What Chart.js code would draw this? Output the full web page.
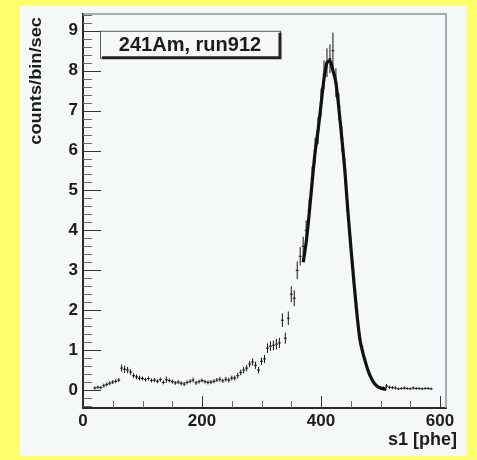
<!DOCTYPE html>
<html><head><meta charset="utf-8">
<script src="https://cdn.jsdelivr.net/npm/chart.js@4/dist/chart.umd.min.js"></script>
<style>
html,body{margin:0;padding:0;background:#ffff6b;width:477px;height:460px;overflow:hidden}
#panel{position:absolute;left:20px;top:6px;width:447px;height:450px;background:#f4f8f9}
canvas{display:block}
</style></head><body>
<div id="panel"><canvas id="c" width="447" height="450"></canvas></div>
<script>
// ---- data ----
const binCenters = [20,25,30,35,40,45,50,55,60,65,70,75,80,85,90,95,100,105,110,115,120,125,130,135,140,145,150,155,160,165,170,175,180,185,190,195,200,205,210,215,220,225,230,235,240,245,250,255,260,265,270,275,280,285,290,295,300,305,310,315,320,325,330,335,340,345,350,355,360,365,370,375,380,385,390,395,400,405,410,415,420,425,430,435,440,445,450,455,460,465,470,475,480,485,490,495,500,505,510,515,520,525,530,535,540,545,550,555,560,565,570,575,580,585];
const counts = [0.05,0.07,0.06,0.11,0.14,0.17,0.2,0.22,0.25,0.55,0.52,0.5,0.45,0.36,0.33,0.3,0.29,0.26,0.29,0.24,0.25,0.22,0.26,0.19,0.26,0.24,0.21,0.18,0.2,0.17,0.15,0.19,0.22,0.25,0.18,0.21,0.24,0.21,0.19,0.2,0.22,0.25,0.27,0.23,0.27,0.25,0.3,0.3,0.36,0.44,0.5,0.55,0.65,0.7,0.62,0.5,0.72,0.78,1.05,1.1,1.12,1.15,1.18,1.75,1.3,1.8,2.4,2.3,3.0,3.35,3.6,4.0,4.5,5.3,6.0,6.5,7.2,7.9,8.2,8.3,8.5,7.7,7.1,6.3,5.5,4.5,3.6,2.8,2.0,1.3,1.0,0.7,0.45,0.28,0.16,0.09,0.05,0.05,0.1,0.07,0.06,0.05,0.03,0.04,0.05,0.04,0.03,0.05,0.04,0.04,0.03,0.04,0.04,0.03];
const errors = [0.04,0.04,0.04,0.05,0.05,0.05,0.05,0.05,0.05,0.09,0.09,0.08,0.07,0.06,0.06,0.06,0.05,0.05,0.05,0.05,0.05,0.05,0.05,0.05,0.08,0.05,0.05,0.05,0.05,0.05,0.05,0.05,0.05,0.06,0.05,0.05,0.05,0.05,0.05,0.05,0.05,0.05,0.06,0.05,0.06,0.06,0.06,0.06,0.07,0.07,0.08,0.08,0.08,0.09,0.09,0.08,0.09,0.1,0.12,0.12,0.12,0.13,0.13,0.17,0.14,0.17,0.2,0.2,0.22,0.23,0.24,0.25,0.28,0.3,0.32,0.34,0.35,0.36,0.36,0.36,0.45,0.36,0.34,0.32,0.3,0.27,0.24,0.21,0.18,0.15,0.12,0.1,0.08,0.06,0.05,0.04,0.04,0.04,0.05,0.04,0.04,0.04,0.03,0.03,0.04,0.03,0.03,0.04,0.03,0.03,0.03,0.03,0.03,0.03];
const fitX = [370,375,380,385,390,395,400,405,410,415,420,425,430,435,440,445,450,455,460,465,470,475,480,485,490,495,500,505,510];
const fitY = [3.2,3.7,4.4,5.2,5.95,6.5,7.15,7.8,8.2,8.25,8.0,7.7,7.05,6.3,5.5,4.5,3.6,2.75,1.95,1.3,0.95,0.68,0.45,0.28,0.16,0.09,0.05,0.03,0.02];
const xTickLabels = [0,200,400,600];
const yTickLabels = [0,1,2,3,4,5,6,7,8,9];
const xMinorStep = 50, yMinorStep = 0.2;
const binHalfWidth = 2.5;
const xRange = [0, 610], yRange = [-0.45, 9.42];
const labelText = '241Am, run912';
const xTitle = 's1 [phe]', yTitle = 'counts/bin/sec';

const FONT = "'Liberation Sans', Arial, Helvetica, sans-serif";
const INK = '#1c1c1c';

const decor = {
  id: 'decor',
  afterDatasetsDraw(chart) {
    const {ctx, scales: {x, y}} = chart;
    ctx.save();
    ctx.strokeStyle = '#151515'; ctx.lineWidth = 1;
    ctx.beginPath();
    for (let i = 0; i < binCenters.length; i++) {
      const px = x.getPixelForValue(binCenters[i]);
      const py = y.getPixelForValue(counts[i]);
      ctx.moveTo(px, y.getPixelForValue(counts[i] - errors[i]));
      ctx.lineTo(px, y.getPixelForValue(counts[i] + errors[i]));
      ctx.moveTo(x.getPixelForValue(binCenters[i] - binHalfWidth), py);
      ctx.lineTo(x.getPixelForValue(binCenters[i] + binHalfWidth), py);
    }
    ctx.stroke();
    ctx.restore();
  },
  afterDraw(chart) {
    const {ctx, chartArea: a, scales: {x, y}} = chart;
    ctx.save();
    // frame top/right
    ctx.strokeStyle = '#8c9296'; ctx.lineWidth = 1.5;
    ctx.beginPath();
    ctx.moveTo(a.left, a.top); ctx.lineTo(a.right, a.top); ctx.lineTo(a.right, a.bottom);
    ctx.stroke();
    // y ticks (inside)
    ctx.lineWidth = 1;
    for (let v = -0.4; v <= yRange[1] + 1e-9; v += yMinorStep) {
      const r = Math.round(v * 10) / 10;
      const py = Math.round(y.getPixelForValue(r)) + 0.5;
      const major = Math.abs(r - Math.round(r)) < 1e-6;
      ctx.strokeStyle = major ? '#333' : '#666';
      ctx.beginPath(); ctx.moveTo(a.left, py); ctx.lineTo(a.left + (major ? 18 : 9), py); ctx.stroke();
    }
    // x ticks (inside)
    for (let v = xMinorStep; v <= xRange[1]; v += xMinorStep) {
      const px = Math.round(x.getPixelForValue(v)) + 0.5;
      const major = xTickLabels.includes(v);
      ctx.strokeStyle = major ? '#333' : '#666';
      ctx.beginPath(); ctx.moveTo(px, a.bottom); ctx.lineTo(px, a.bottom - (major ? 12 : 7)); ctx.stroke();
    }
    // label box
    const bx = a.left + 17, by = y.getPixelForValue(9), bw = 180, bh = 27;
    ctx.fillStyle = '#f4f8f9'; ctx.fillRect(bx, by, bw, bh);
    ctx.strokeStyle = '#555'; ctx.lineWidth = 1;
    ctx.strokeRect(bx + 0.5, by + 0.5, bw, bh);
    ctx.strokeStyle = '#222'; ctx.lineWidth = 3;
    ctx.beginPath(); ctx.moveTo(bx + 2, by + bh); ctx.lineTo(bx + bw, by + bh); ctx.lineTo(bx + bw, by + 2); ctx.stroke();
    ctx.fillStyle = INK; ctx.font = 'bold 20px ' + FONT;
    ctx.textAlign = 'center'; ctx.textBaseline = 'middle';
    ctx.fillText(labelText, bx + bw / 2, by + bh / 2 + 1);
    // x title
    ctx.font = 'bold 18px ' + FONT; ctx.textAlign = 'right'; ctx.textBaseline = 'middle';
    ctx.fillText(xTitle, a.right + 11, a.bottom + 32);
    // y title (rotated, top-aligned)
    ctx.translate(a.left - 46, a.top + 3);
    ctx.rotate(-Math.PI / 2);
    ctx.scale(1.14, 1);
    ctx.font = 'bold 16px ' + FONT; ctx.textAlign = 'right'; ctx.textBaseline = 'middle';
    ctx.fillText(yTitle, 0, 0);
    ctx.restore();
  }
};

new Chart(document.getElementById('c'), {
  type: 'scatter',
  data: {
    datasets: [
      { label: 'fit', type: 'line', data: fitX.map((v, i) => ({x: v, y: fitY[i]})),
        borderColor: '#111', borderWidth: 3.2, pointRadius: 0, cubicInterpolationMode: 'monotone', fill: false, order: 1 },
      { label: 'data', data: binCenters.map((v, i) => ({x: v, y: counts[i]})),
        pointRadius: 0, borderColor: '#111', backgroundColor: '#111', order: 2 }
    ]
  },
  options: {
    responsive: false, animation: false, devicePixelRatio: 1,
    layout: { padding: { left: 0, right: 21, top: 8, bottom: 0 } },
    plugins: { legend: { display: false }, tooltip: { enabled: false } },
    scales: {
      x: {
        type: 'linear', min: xRange[0], max: xRange[1],
        afterBuildTicks: s => { s.ticks = xTickLabels.map(v => ({value: v})); },
        afterFit: s => { s.height = 48; s.paddingLeft = 0; s.paddingRight = 0; },
        grid: { display: false, drawTicks: false },
        border: { display: true, color: '#2a2a2a', width: 2 },
        ticks: { color: INK, font: { family: FONT, size: 17, weight: 'bold' }, padding: 3, maxRotation: 0, autoSkip: false }
      },
      y: {
        type: 'linear', min: yRange[0], max: yRange[1],
        afterBuildTicks: s => { s.ticks = yTickLabels.map(v => ({value: v})); },
        afterFit: s => { s.width = 63; s.paddingTop = 0; s.paddingBottom = 0; },
        grid: { display: false, drawTicks: false },
        border: { display: true, color: '#2a2a2a', width: 2 },
        ticks: { color: INK, font: { family: FONT, size: 17, weight: 'bold' }, padding: 5, autoSkip: false }
      }
    }
  },
  plugins: [decor]
});
</script>
</body></html>
